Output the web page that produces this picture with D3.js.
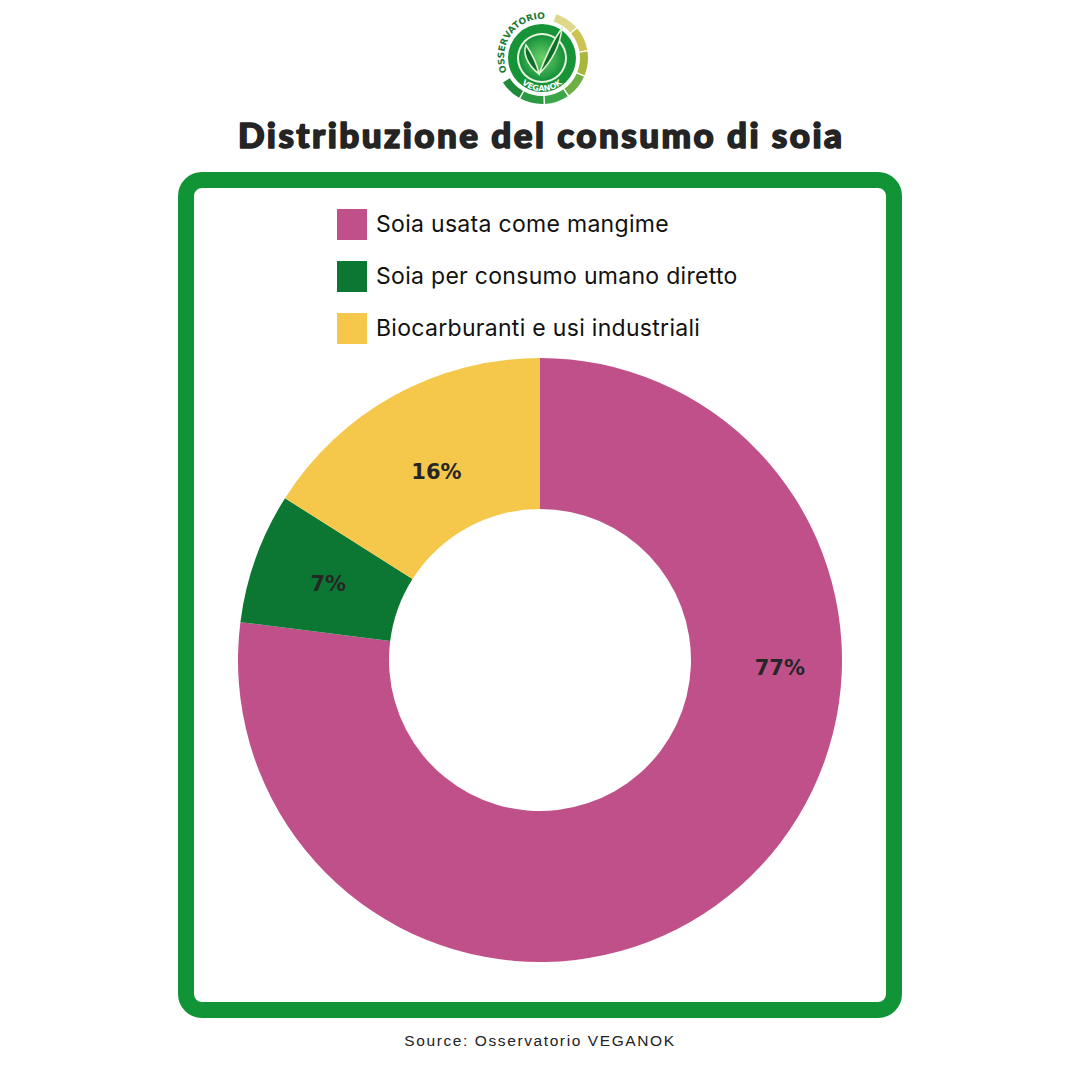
<!DOCTYPE html>
<html><head><meta charset="utf-8">
<script src="https://cdn.jsdelivr.net/npm/d3@7"></script>
<style>html,body{margin:0;padding:0;background:#fff}svg{display:block}</style>
</head><body>
<svg id="chart" width="1080" height="1080"></svg>
<script>
const categories = ["Soia usata come mangime", "Soia per consumo umano diretto", "Biocarburanti e usi industriali"];
const values = [77, 7, 16];
const colors = ["#c0508a", "#0b7733", "#f5c84c"];
const titleText = "Distribuzione del consumo di soia";
const sourceText = "Source: Osservatorio VEGANOK";

const svg = d3.select("#chart");

// ---- Logo ----
const logo = svg.append("g").attr("transform", "translate(542,58)");
logo.append("circle").attr("r", 47).attr("fill", "#fff");
const ringSegs = [
  {a0: 18, a1: 48, c: "#ddd88a"}, {a0: 50, a1: 80, c: "#cbc452"},
  {a0: 82, a1: 112, c: "#a9b83a"}, {a0: 114, a1: 144, c: "#6fb043"},
  {a0: 146, a1: 176, c: "#3aa648"}, {a0: 178, a1: 208, c: "#2b9a43"},
  {a0: 210, a1: 238, c: "#1f8a3a"}
];
const ringArc = d3.arc().innerRadius(38).outerRadius(46);
ringSegs.forEach(s => logo.append("path")
  .attr("d", ringArc({startAngle: s.a0 * Math.PI / 180, endAngle: s.a1 * Math.PI / 180}))
  .attr("fill", s.c));
const defs = svg.append("defs");
const lg = defs.append("radialGradient").attr("id", "lg");
lg.append("stop").attr("offset", "0%").attr("stop-color", "#6cd068");
lg.append("stop").attr("offset", "100%").attr("stop-color", "#14903a");
logo.append("circle").attr("r", 34).attr("fill", "#179438");
logo.append("circle").attr("r", 25).attr("fill", "#e8f6e0");
logo.append("circle").attr("r", 23).attr("fill", "url(#lg)");
defs.append("path").attr("id", "topArc")
  .attr("d", "M -34 16 A 38 38 0 1 1 34 -18");
logo.append("text").attr("font-family", "'DejaVu Sans', sans-serif").attr("font-weight", "bold")
  .attr("font-size", 9).attr("fill", "#1d7a35")
  .append("textPath").attr("href", "#topArc").attr("startOffset", "2%").text("OSSERVATORIO");
defs.append("path").attr("id", "botArc")
  .attr("d", "M -30 10 A 31 31 0 0 0 30 10");
logo.append("text").attr("font-family", "'DejaVu Sans', sans-serif").attr("font-weight", "bold")
  .attr("font-size", 8).attr("fill", "#fff").attr("text-anchor", "middle")
  .append("textPath").attr("href", "#botArc").attr("startOffset", "50%").text("VEGANOK");
logo.append("path").attr("d", "M -3 16 C -16 6 -19 -6 -16 -13 C -10 -4 -5 5 -3 16 Z")
  .attr("fill", "#0f6e2c").attr("stroke", "#e0f4d0").attr("stroke-width", 1.6);
logo.append("path").attr("d", "M -3 16 C 3 0 10 -16 20 -30 C 18 -12 9 4 -3 16 Z")
  .attr("fill", "#0f6e2c").attr("stroke", "#e0f4d0").attr("stroke-width", 1.6);

// ---- Title ----
svg.append("text").attr("x", 540).attr("y", 148).attr("text-anchor", "middle")
  .attr("font-family", "Lato, 'DejaVu Sans', sans-serif").attr("font-weight", 900)
  .attr("font-size", 35).attr("fill", "#242424")
  .attr("stroke", "#242424").attr("stroke-width", 1.6).attr("stroke-linejoin", "round")
  .attr("textLength", 604).attr("lengthAdjust", "spacing")
  .text(titleText);

// ---- Frame ----
svg.append("rect").attr("x", 186).attr("y", 180).attr("width", 708).attr("height", 830)
  .attr("rx", 16).attr("fill", "#fff").attr("stroke", "#119436").attr("stroke-width", 16);

// ---- Legend ----
const legend = svg.append("g").attr("transform", "translate(337,209)");
const legY = d3.scalePoint().domain(categories).range([0, 104]);
const li = legend.selectAll("g").data(categories).join("g")
  .attr("transform", d => `translate(0,${legY(d)})`);
li.append("rect").attr("width", 30).attr("height", 31)
  .attr("fill", (d, i) => colors[i]);
li.append("text").attr("x", 39).attr("y", 23)
  .attr("font-family", "Inter, 'Liberation Sans', sans-serif").attr("font-size", 23)
  .attr("fill", "#111").attr("letter-spacing", 0.3).text(d => d);

// ---- Donut ----
const cx = 540, cy = 660, R = 302, r0 = 151;
const pie = d3.pie().sort(null).value(d => d);
const arcs = pie(values);
const arc = d3.arc().innerRadius(r0).outerRadius(R);
const g = svg.append("g").attr("transform", `translate(${cx},${cy})`);
g.selectAll("path").data(arcs).join("path")
  .attr("d", arc).attr("fill", (d, i) => colors[i]);

const labelR = [240, 225, 215];
const labelAngle = arcs.map((d, i) => i === 0 ? Math.PI / 2 + 0.03 : (d.startAngle + d.endAngle) / 2);
g.selectAll("text.lbl").data(arcs).join("text").attr("class", "lbl")
  .attr("x", (d, i) => labelR[i] * Math.sin(labelAngle[i]))
  .attr("y", (d, i) => -labelR[i] * Math.cos(labelAngle[i]))
  .attr("dy", "0.35em").attr("text-anchor", "middle")
  .attr("font-family", "'DejaVu Sans', sans-serif").attr("font-weight", "bold")
  .attr("font-size", 21).attr("fill", "#262626")
  .text(d => d.data + "%");

// ---- Source ----
svg.append("text").attr("x", 540).attr("y", 1046).attr("text-anchor", "middle")
  .attr("font-family", "'Liberation Sans', Arial, sans-serif").attr("font-size", 15.5)
  .attr("letter-spacing", 1.6).attr("fill", "#222").text(sourceText);
</script>
</body></html>
